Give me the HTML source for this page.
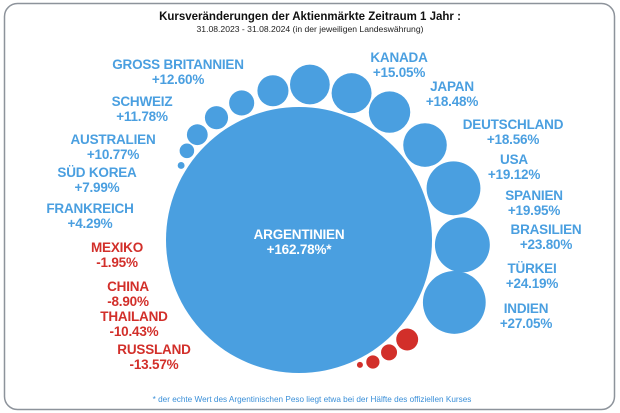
<!DOCTYPE html>
<html><head><meta charset="utf-8"><style>
html,body{margin:0;padding:0;background:#fff;width:620px;height:413px;overflow:hidden}
svg{display:block;font-family:"Liberation Sans",sans-serif}
.lb{font-weight:bold;font-size:13.5px;text-anchor:middle;letter-spacing:-0.2px}
</style></head><body>
<svg width="620" height="413" viewBox="0 0 620 413">
<rect x="4.5" y="3.5" width="610" height="406" rx="13" fill="#fff" stroke="#8d939b" stroke-width="1.5"/>
<text x="310" y="20" text-anchor="middle" font-weight="bold" font-size="11.5px" fill="#111">Kursveränderungen der Aktienmärkte Zeitraum 1  Jahr :</text>
<text x="310" y="32" text-anchor="middle" font-size="8.6px" fill="#222">31.08.2023 - 31.08.2024 (in der jeweiligen Landeswährung)</text>
<g id="bubbles"></g>
<g id="labels"></g>
<text x="312" y="402" text-anchor="middle" font-size="8.2px" fill="#3a8fd8">* der echte Wert des Argentinischen Peso liegt etwa bei der Hälfte des offiziellen Kurses</text>
</svg>
<script>
// Data
const posCountries=["FRANKREICH","SÜD KOREA","AUSTRALIEN","SCHWEIZ","GROSS BRITANNIEN","KANADA","JAPAN","DEUTSCHLAND","USA","SPANIEN","BRASILIEN","TÜRKEI","INDIEN"];
const posValues=[4.29,7.99,10.77,11.78,12.60,15.05,18.48,18.56,19.12,19.95,23.80,24.19,27.05];
const negCountries=["MEXIKO","CHINA","THAILAND","RUSSLAND"];
const negValues=[-1.95,-8.90,-10.43,-13.57];
const mainCountry="ARGENTINIEN";
const mainValue=162.78;

// Layout (not data)
const cx=299,cy=240,R=133,gap=3;
const posAngles=[147.7,141.5,134,124,112.7,99.9,86,70.3,54.7,37,18.5,-1.7,-21.9];
const negAngles=[-64,-58.8,-51.3,-42.6];
const posLabelXY=[[90,208],[97,172],[113,139],[142,101],[178,64],[399,57],[452,86],[513,124],[514,159],[534,195],[546,229],[532,268],[526,308]];
const negLabelXY=[[117,247],[128,286],[134,316],[154,349]];
const BLUE="#4a9fe0",RED="#d22f2a";
const rPos=v=>0.6*Math.pow(Math.abs(v),1.2);
const rNeg=v=>Math.max(3,0.48*Math.pow(Math.abs(v),1.2));
const NS="http://www.w3.org/2000/svg";
const gb=document.getElementById('bubbles'),gl=document.getElementById('labels');
function fmt(v){return (v>=0?"+":"-")+Math.abs(v).toFixed(2)+"%";}
function slug(s){return s.toLowerCase().replace(/ü/g,'ue').replace(/\s+/g,'-');}
function bubble(x,y,r,fill,name){
  const c=document.createElementNS(NS,'circle');
  c.setAttribute('cx',x);c.setAttribute('cy',y);c.setAttribute('r',r);c.setAttribute('fill',fill);
  
  
  gb.appendChild(c);
}
function label(x,y,name,val,fill,dn,suffix){
  const t=document.createElementNS(NS,'text');
  t.setAttribute('class','lb');t.setAttribute('fill',fill);
  
  
  const a=document.createElementNS(NS,'tspan');a.setAttribute('x',x);a.setAttribute('y',y+5);a.textContent=name;
  const b=document.createElementNS(NS,'tspan');b.setAttribute('x',x);b.setAttribute('y',y+20);b.textContent=fmt(val)+(suffix||"");
  t.appendChild(a);t.appendChild(b);gl.appendChild(t);
}
bubble(cx,cy,R,BLUE,'bubble-'+slug(mainCountry));
label(cx,cy-6,mainCountry,mainValue,"#fff",'label-'+slug(mainCountry),"*");
posValues.forEach((v,i)=>{
  const r=rPos(v),a=posAngles[i]*Math.PI/180,d=R+gap+r;
  bubble(cx+d*Math.cos(a),cy-d*Math.sin(a),r,BLUE,'bubble-'+slug(posCountries[i]));
  label(posLabelXY[i][0],posLabelXY[i][1],posCountries[i],v,BLUE,'label-'+slug(posCountries[i]));
});
negValues.forEach((v,i)=>{
  const r=rNeg(v),a=negAngles[i]*Math.PI/180,d=R+gap+r;
  bubble(cx+d*Math.cos(a),cy-d*Math.sin(a),r,RED,'bubble-'+slug(negCountries[i]));
  label(negLabelXY[i][0],negLabelXY[i][1],negCountries[i],v,RED,'label-'+slug(negCountries[i]));
});
</script>
</body></html>
